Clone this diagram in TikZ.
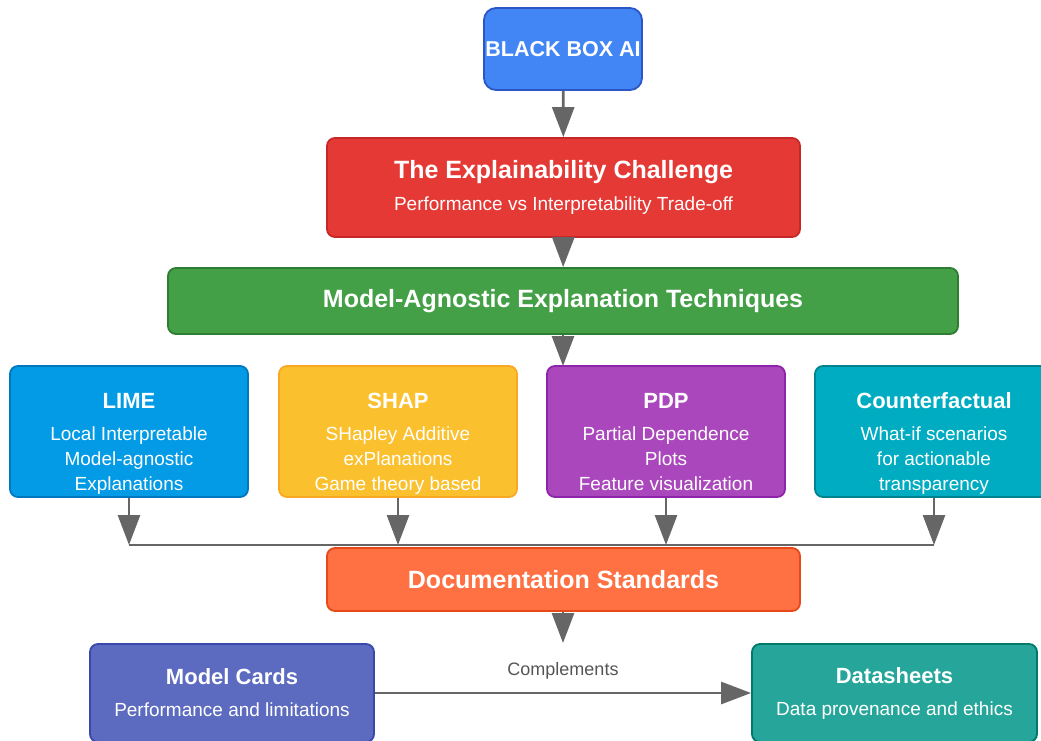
\documentclass[tikz,border=0pt]{standalone}
\usepackage{fontspec}
\setmainfont{Liberation Sans}
\usetikzlibrary{arrows.meta}

\definecolor{bbfill}{HTML}{4285F4}\definecolor{bbline}{HTML}{2A56C6}
\definecolor{chfill}{HTML}{E53935}\definecolor{chline}{HTML}{C62828}
\definecolor{mafill}{HTML}{43A047}\definecolor{maline}{HTML}{2E7D32}
\definecolor{limefill}{HTML}{039BE5}\definecolor{limeline}{HTML}{0277BD}
\definecolor{shapfill}{HTML}{FBC02D}\definecolor{shapline}{HTML}{F9A825}
\definecolor{pdpfill}{HTML}{AB47BC}\definecolor{pdpline}{HTML}{8E24AA}
\definecolor{cffill}{HTML}{00ACC1}\definecolor{cfline}{HTML}{00838F}
\definecolor{docfill}{HTML}{FF7043}\definecolor{docline}{HTML}{E64A19}
\definecolor{mcfill}{HTML}{5C6BC0}\definecolor{mcline}{HTML}{3949AB}
\definecolor{dsfill}{HTML}{26A69A}\definecolor{dsline}{HTML}{00796B}
\definecolor{arrowgray}{HTML}{666666}
\definecolor{labelgray}{HTML}{555555}

% large and small box headings
\newcommand{\bigtitle}[1]{{\fontsize{25}{30}\selectfont\bfseries #1}}
\newcommand{\smalltitle}[1]{{\fontsize{22}{26}\selectfont\bfseries #1}}
% struts that give the technique cards the same text placement
\newcommand{\topgap}{\rule{0pt}{42pt}}
\newcommand{\botgap}{\rule[-6pt]{0pt}{6pt}}

\tikzset{
  card/.style={rectangle, rounded corners=8pt, line width=1.8pt, text=white,
    align=center, inner sep=0pt, font=\fontsize{19}{25}\selectfont},
  arr/.style={draw=arrowgray, line width=2.8pt,
    -{Triangle[length=30pt,width=22pt]}},
  plain/.style={draw=arrowgray, line width=2.8pt},
}

\begin{document}
\begin{tikzpicture}[x=1pt,y=-1pt]
\useasboundingbox (0,0) rectangle (1041,740);
\clip (0,0) rectangle (1041,740);

% top of the chain
\node[card, fill=bbfill, draw=bbline, rounded corners=12pt,
      minimum width=158pt, minimum height=82pt] (bb) at (563,49)
  {{\fontsize{21.5}{26}\selectfont\bfseries BLACK BOX AI}};

\node[card, fill=chfill, draw=chline, minimum width=473pt, minimum height=99pt]
  (ch) at (563.5,187.5)
  {\bigtitle{The Explainability Challenge}\\[7pt]
   Performance vs Interpretability Trade-off};

\node[card, fill=mafill, draw=maline, minimum width=790pt, minimum height=66pt]
  (ma) at (563,301) {\bigtitle{Model-Agnostic Explanation Techniques}};

% the four techniques
\node[card, fill=limefill, draw=limeline, minimum width=238pt, minimum height=131pt]
  (lime) at (129,431.5)
  {\topgap\smalltitle{LIME}\\[7pt] Local Interpretable\\ Model-agnostic\\ Explanations\botgap};
\node[card, fill=shapfill, draw=shapline, minimum width=238pt, minimum height=131pt]
  (shap) at (398,431.5)
  {\topgap\smalltitle{SHAP}\\[7pt] SHapley Additive\\ exPlanations\\ Game theory based\botgap};
\node[card, fill=pdpfill, draw=pdpline, minimum width=238pt, minimum height=131pt]
  (pdp) at (666,431.5)
  {\topgap\smalltitle{PDP}\\[7pt] Partial Dependence\\ Plots\\ Feature visualization\botgap};
\node[card, fill=cffill, draw=cfline, minimum width=238pt, minimum height=131pt]
  (cf) at (934,431.5)
  {\topgap\smalltitle{Counterfactual}\\[7pt] What-if scenarios\\ for actionable\\ transparency\botgap};

\node[card, fill=docfill, draw=docline, minimum width=473pt, minimum height=63pt]
  (doc) at (563.5,579.5) {\bigtitle{Documentation Standards}};

\node[card, fill=mcfill, draw=mcline, minimum width=284pt, minimum height=98pt]
  (mc) at (232,693)
  {\smalltitle{Model Cards}\\[7pt] Performance and limitations};
\node[card, fill=dsfill, draw=dsline, minimum width=285pt, minimum height=98pt]
  (ds) at (894.5,693)
  {\smalltitle{Datasheets}\\[7pt] Data provenance and ethics};

% free ends of connectors
\coordinate (maend) at (563,366);
\coordinate (docend) at (563,643);
\coordinate (j1) at (129,545);
\coordinate (j2) at (398,545);
\coordinate (j3) at (666,545);
\coordinate (j4) at (934,545);

% connectors
\draw[arr] (bb) -- (ch);
\draw[arr] (ch) -- (ma);
\draw[arr] (ma.south -| maend) -- (maend);
\draw[plain] (j1) -- (j4);
\draw[arr] (lime) -- (j1);
\draw[arr] (shap) -- (j2);
\draw[arr] (pdp) -- (j3);
\draw[arr] (cf) -- (j4);
\draw[arr] (doc.south -| docend) -- (docend);
\draw[arr] (mc) -- node[above=9pt, text=labelgray, font=\fontsize{18}{22}\selectfont]
  {Complements} (ds);
\end{tikzpicture}
\end{document}
